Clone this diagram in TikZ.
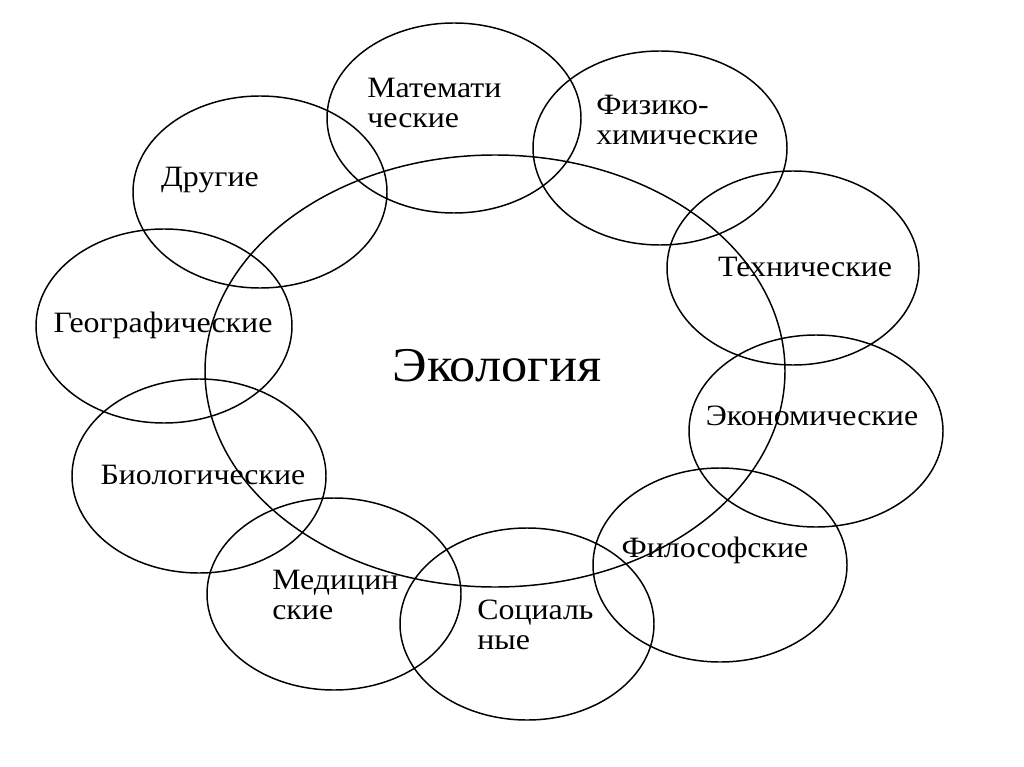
\documentclass[tikz,border=0pt]{standalone}
\usepackage{fontspec}
\setmainfont{Liberation Serif}[FakeStretch=1.08]

\begin{document}
\begin{tikzpicture}[x=0.025cm,y=-0.025cm]
\tikzset{
  field/.style={line width=1.05pt},
  lbl/.style={inner sep=0pt,font=\fontsize{21}{21.3}\selectfont,align=left},
}
\useasboundingbox (0,0) rectangle (1024,767);

% Central ellipse
\draw[field] (495,371) ellipse (290 and 216);
\node[inner sep=0pt,font=\fontsize{34.5}{36}\selectfont] (eco) at (497,366) {Экология};

% Upper ring
\draw[field] (454,118) ellipse (127 and 95);
\node[lbl,anchor=west] (mat) at (367,103) {Математи\\ческие};
\draw[field] (660,148) ellipse (127 and 97);
\node[lbl,anchor=west] (phys) at (596,120) {Физико-\\химические};
\draw[field] (793,268) ellipse (126 and 97);
\node[lbl] (tech) at (805,267) {Технические};
\draw[field] (816,431) ellipse (127 and 96);
\node[lbl] (econ) at (812,416) {Экономические};

% Lower ring
\draw[field] (720,565) ellipse (127 and 97);
\node[lbl] (phil) at (715,550) {Философские};
\draw[field] (527,624) ellipse (127 and 96);
\node[lbl,anchor=west] (soc) at (477,625) {Социаль\\ные};
\draw[field] (334,594) ellipse (127 and 96);
\node[lbl,anchor=west] (med) at (272,595) {Медицин\\ские};
\draw[field] (199,476) ellipse (127 and 97);
\node[lbl] (bio) at (203,475) {Биологические};

% Left side
\draw[field] (164,326) ellipse (128 and 97);
\node[lbl] (geo) at (163,325) {Географические};
\draw[field] (260,192) ellipse (127 and 96);
\node[lbl] (other) at (210,180) {Другие};
\end{tikzpicture}
\end{document}
